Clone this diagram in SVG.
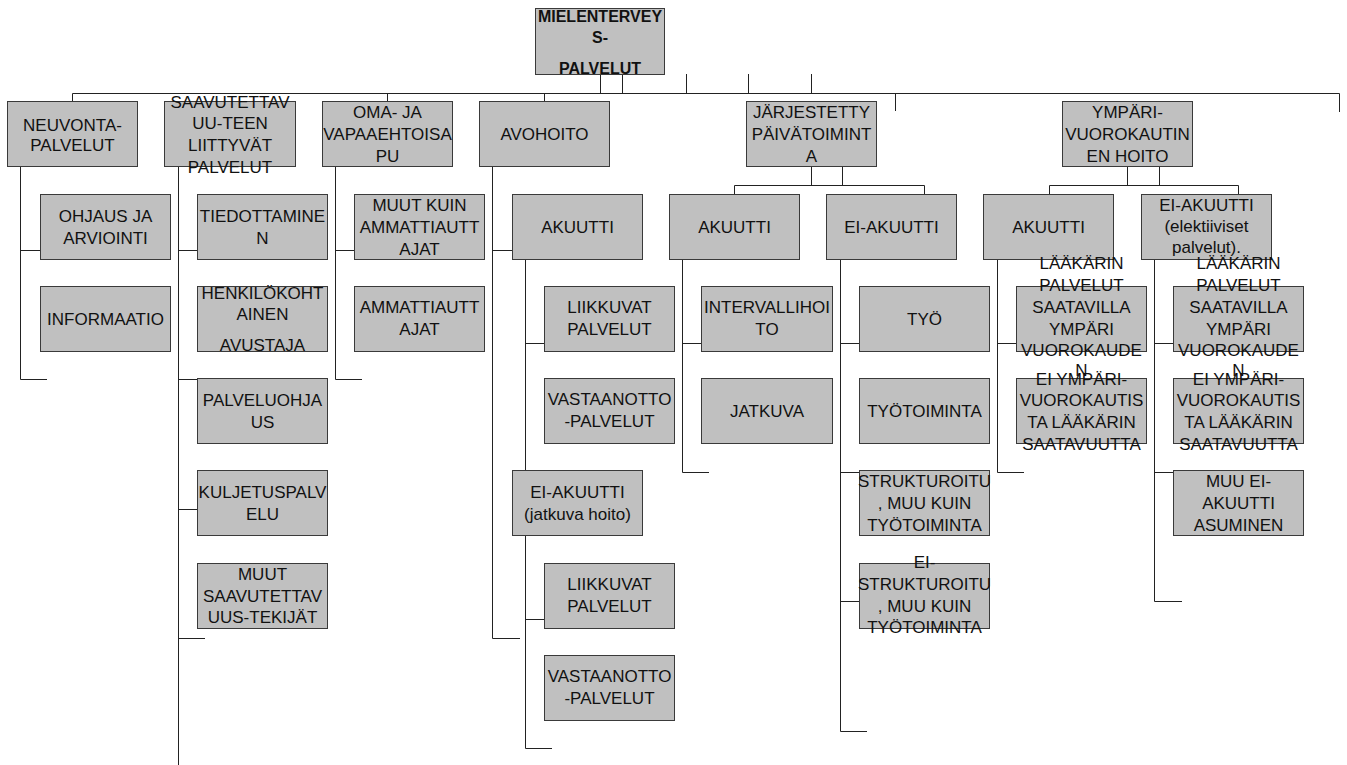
<svg xmlns="http://www.w3.org/2000/svg" width="1347" height="765" viewBox="0 0 1347 765">
<style>
.box{fill:#c0c0c0;stroke:#3a3a3a;stroke-width:1}
.t{font-family:"Liberation Sans",Arial,sans-serif;font-size:17px;text-anchor:middle;fill:#111}
.b{font-family:"Liberation Sans",Arial,sans-serif;font-size:16px;font-weight:bold;text-anchor:middle;fill:#111}
.c{fill:none;stroke:#222;stroke-width:1}
</style>
<rect width="1347" height="765" fill="#fff"/>
<g id="connectors" class="c">
<path d="M600.5 74V93.5M622.5 74V93.5M686.5 74V93.5M748.5 74V93.5M811.5 74V93.5"/>
<path d="M72.5 93.5H1339.5M72.5 93.5V101M387.5 93.5V101M544.5 93.5V101M895.5 93.5V111M1339.5 93.5V112"/>
<path d="M20.5 166V379.5H47M20.5 250.5H40"/>
<path d="M178.5 166V765M178.5 250.5H197M178.5 379.5H197M178.5 509.5H197M178.5 638.5H205"/>
<path d="M335.5 166V379.5H362M335.5 250.5H354"/>
<path d="M492.5 166V638.5H520M492.5 250.5H512M525.5 259V470M525.5 343.5H544M525.5 535V748.5H552M525.5 619.5H544"/>
<path d="M811.5 166V185.5M842.5 166V185.5M734.5 194V185.5H924.5V194M682.5 259V472.5H709M682.5 343.5H701M840.5 259V731.5H867M840.5 343.5H859M840.5 472.5H859M840.5 601.5H859"/>
<path d="M1127.5 166V185.5M1159.5 166V185.5M1049.5 194V185.5H1238.5V194M997.5 259V472.5H1024M997.5 343.5H1016M1154.5 259V601.5H1182M1154.5 343.5H1173M1154.5 472.5H1173"/>
</g>
<g id="n-root"><rect class="box" x="535.5" y="8.5" width="129" height="66"/><text class="b"><tspan x="600" y="22">MIELENTERVEY</tspan><tspan x="600" y="43">S-</tspan><tspan x="600" y="74">PALVELUT</tspan></text></g>
<g id="n-neuvonta"><rect class="box" x="7.5" y="101.5" width="130" height="65"/><text class="t"><tspan x="72.5" y="130.5">NEUVONTA-</tspan><tspan x="72.5" y="151">PALVELUT</tspan></text></g>
<g id="n-saavutettavuus"><rect class="box" x="164.5" y="101.5" width="131" height="65"/><text class="t"><tspan x="230" y="107.5">SAAVUTETTAV</tspan><tspan x="230" y="129.2">UU-TEEN</tspan><tspan x="230" y="150.9">LIITTYVÄT</tspan><tspan x="230" y="172.6">PALVELUT</tspan></text></g>
<g id="n-oma"><rect class="box" x="322.5" y="101.5" width="130" height="65"/><text class="t"><tspan x="387.5" y="118.3">OMA- JA</tspan><tspan x="387.5" y="140">VAPAAEHTOISA</tspan><tspan x="387.5" y="161.7">PU</tspan></text></g>
<g id="n-avohoito"><rect class="box" x="479.5" y="101.5" width="130" height="65"/><text class="t"><tspan x="544.5" y="140">AVOHOITO</tspan></text></g>
<g id="n-paivatoiminta"><rect class="box" x="746.5" y="101.5" width="130" height="65"/><text class="t"><tspan x="811.5" y="118.3">JÄRJESTETTY</tspan><tspan x="811.5" y="140">PÄIVÄTOIMINT</tspan><tspan x="811.5" y="161.7">A</tspan></text></g>
<g id="n-ymparivuorokautinen"><rect class="box" x="1062.5" y="101.5" width="130" height="65"/><text class="t"><tspan x="1127.5" y="118.3">YMPÄRI-</tspan><tspan x="1127.5" y="140">VUOROKAUTIN</tspan><tspan x="1127.5" y="161.7">EN HOITO</tspan></text></g>
<g id="n-ohjaus"><rect class="box" x="40.5" y="194.5" width="130" height="65"/><text class="t"><tspan x="105.5" y="222">OHJAUS JA</tspan><tspan x="105.5" y="243.5">ARVIOINTI</tspan></text></g>
<g id="n-informaatio"><rect class="box" x="40.5" y="286.5" width="130" height="65"/><text class="t"><tspan x="105.5" y="325">INFORMAATIO</tspan></text></g>
<g id="n-tiedottaminen"><rect class="box" x="197.5" y="194.5" width="130" height="65"/><text class="t"><tspan x="262.5" y="222">TIEDOTTAMINE</tspan><tspan x="262.5" y="243.5">N</tspan></text></g>
<g id="n-henkilokohtainen"><rect class="box" x="197.5" y="286.5" width="130" height="65"/><text class="t"><tspan x="262.5" y="298.5">HENKILÖKOHT</tspan><tspan x="262.5" y="319.5">AINEN</tspan><tspan x="262.5" y="351">AVUSTAJA</tspan></text></g>
<g id="n-palveluohjaus"><rect class="box" x="197.5" y="378.5" width="130" height="65"/><text class="t"><tspan x="262.5" y="406">PALVELUOHJA</tspan><tspan x="262.5" y="427.5">US</tspan></text></g>
<g id="n-kuljetuspalvelu"><rect class="box" x="197.5" y="470.5" width="130" height="65"/><text class="t"><tspan x="262.5" y="498">KULJETUSPALV</tspan><tspan x="262.5" y="519.5">ELU</tspan></text></g>
<g id="n-muut-saavutettavuus"><rect class="box" x="197.5" y="563.5" width="130" height="65"/><text class="t"><tspan x="262.5" y="580">MUUT</tspan><tspan x="262.5" y="601.7">SAAVUTETTAV</tspan><tspan x="262.5" y="623.4">UUS-TEKIJÄT</tspan></text></g>
<g id="n-muut-kuin-ammatti"><rect class="box" x="354.5" y="194.5" width="130" height="65"/><text class="t"><tspan x="419.5" y="211.3">MUUT KUIN</tspan><tspan x="419.5" y="233">AMMATTIAUTT</tspan><tspan x="419.5" y="254.7">AJAT</tspan></text></g>
<g id="n-ammatti"><rect class="box" x="354.5" y="286.5" width="130" height="65"/><text class="t"><tspan x="419.5" y="313">AMMATTIAUTT</tspan><tspan x="419.5" y="335">AJAT</tspan></text></g>
<g id="n-avo-akuutti"><rect class="box" x="512.5" y="194.5" width="130" height="65"/><text class="t"><tspan x="577.5" y="233">AKUUTTI</tspan></text></g>
<g id="n-avo-akuutti-liikkuvat"><rect class="box" x="544.5" y="286.5" width="130" height="65"/><text class="t"><tspan x="609.5" y="313">LIIKKUVAT</tspan><tspan x="609.5" y="335">PALVELUT</tspan></text></g>
<g id="n-avo-akuutti-vastaanotto"><rect class="box" x="544.5" y="378.5" width="130" height="65"/><text class="t"><tspan x="609.5" y="405">VASTAANOTTO</tspan><tspan x="609.5" y="427">-PALVELUT</tspan></text></g>
<g id="n-avo-eiakuutti"><rect class="box" x="512.5" y="470.5" width="130" height="65"/><text class="t"><tspan x="577.5" y="498">EI-AKUUTTI</tspan><tspan x="577.5" y="519.5">(jatkuva hoito)</tspan></text></g>
<g id="n-avo-eiakuutti-liikkuvat"><rect class="box" x="544.5" y="563.5" width="130" height="65"/><text class="t"><tspan x="609.5" y="590">LIIKKUVAT</tspan><tspan x="609.5" y="612">PALVELUT</tspan></text></g>
<g id="n-avo-eiakuutti-vastaanotto"><rect class="box" x="544.5" y="655.5" width="130" height="65"/><text class="t"><tspan x="609.5" y="682">VASTAANOTTO</tspan><tspan x="609.5" y="704">-PALVELUT</tspan></text></g>
<g id="n-pt-akuutti"><rect class="box" x="669.5" y="194.5" width="130" height="65"/><text class="t"><tspan x="734.5" y="233">AKUUTTI</tspan></text></g>
<g id="n-intervallihoito"><rect class="box" x="701.5" y="286.5" width="131" height="65"/><text class="t"><tspan x="767" y="313">INTERVALLIHOI</tspan><tspan x="767" y="335">TO</tspan></text></g>
<g id="n-jatkuva"><rect class="box" x="701.5" y="378.5" width="131" height="65"/><text class="t"><tspan x="767" y="417">JATKUVA</tspan></text></g>
<g id="n-pt-eiakuutti"><rect class="box" x="826.5" y="194.5" width="130" height="65"/><text class="t"><tspan x="891.5" y="233">EI-AKUUTTI</tspan></text></g>
<g id="n-tyo"><rect class="box" x="859.5" y="286.5" width="130" height="65"/><text class="t"><tspan x="924.5" y="325">TYÖ</tspan></text></g>
<g id="n-tyotoiminta"><rect class="box" x="859.5" y="378.5" width="130" height="65"/><text class="t"><tspan x="924.5" y="417">TYÖTOIMINTA</tspan></text></g>
<g id="n-strukturoitu"><rect class="box" x="859.5" y="470.5" width="130" height="65"/><text class="t"><tspan x="924.5" y="487.3">STRUKTUROITU</tspan><tspan x="924.5" y="509">, MUU KUIN</tspan><tspan x="924.5" y="530.7">TYÖTOIMINTA</tspan></text></g>
<g id="n-ei-strukturoitu"><rect class="box" x="859.5" y="563.5" width="130" height="65"/><text class="t"><tspan x="924.5" y="568">EI-</tspan><tspan x="924.5" y="590">STRUKTUROITU</tspan><tspan x="924.5" y="611.7">, MUU KUIN</tspan><tspan x="924.5" y="633">TYÖTOIMINTA</tspan></text></g>
<g id="n-yv-akuutti"><rect class="box" x="983.5" y="194.5" width="130" height="65"/><text class="t"><tspan x="1048.5" y="233">AKUUTTI</tspan></text></g>
<g id="n-yv-akuutti-laakari"><rect class="box" x="1016.5" y="286.5" width="130" height="65"/><text class="t"><tspan x="1081.5" y="269">LÄÄKÄRIN</tspan><tspan x="1081.5" y="290.5">PALVELUT</tspan><tspan x="1081.5" y="312.5">SAATAVILLA</tspan><tspan x="1081.5" y="334.5">YMPÄRI</tspan><tspan x="1081.5" y="356">VUOROKAUDE</tspan><tspan x="1081.5" y="376">N</tspan></text></g>
<g id="n-yv-akuutti-ei-ympari"><rect class="box" x="1016.5" y="378.5" width="130" height="65"/><text class="t"><tspan x="1081.5" y="385">EI YMPÄRI-</tspan><tspan x="1081.5" y="406.3">VUOROKAUTIS</tspan><tspan x="1081.5" y="428">TA LÄÄKÄRIN</tspan><tspan x="1081.5" y="449.5">SAATAVUUTTA</tspan></text></g>
<g id="n-yv-eiakuutti"><rect class="box" x="1141.5" y="194.5" width="130" height="65"/><text class="t"><tspan x="1206.5" y="210.5">EI-AKUUTTI</tspan><tspan x="1206.5" y="231.5">(elektiiviset</tspan><tspan x="1206.5" y="252.5">palvelut).</tspan></text></g>
<g id="n-yv-eiakuutti-laakari"><rect class="box" x="1173.5" y="286.5" width="130" height="65"/><text class="t"><tspan x="1238.5" y="269">LÄÄKÄRIN</tspan><tspan x="1238.5" y="290.5">PALVELUT</tspan><tspan x="1238.5" y="312.5">SAATAVILLA</tspan><tspan x="1238.5" y="334.5">YMPÄRI</tspan><tspan x="1238.5" y="356">VUOROKAUDE</tspan><tspan x="1238.5" y="376">N</tspan></text></g>
<g id="n-yv-eiakuutti-ei-ympari"><rect class="box" x="1173.5" y="378.5" width="130" height="65"/><text class="t"><tspan x="1238.5" y="385">EI YMPÄRI-</tspan><tspan x="1238.5" y="406.3">VUOROKAUTIS</tspan><tspan x="1238.5" y="428">TA LÄÄKÄRIN</tspan><tspan x="1238.5" y="449.5">SAATAVUUTTA</tspan></text></g>
<g id="n-muu-ei-akuutti-asuminen"><rect class="box" x="1173.5" y="470.5" width="130" height="65"/><text class="t"><tspan x="1238.5" y="487.3">MUU EI-</tspan><tspan x="1238.5" y="509">AKUUTTI</tspan><tspan x="1238.5" y="530.7">ASUMINEN</tspan></text></g>
</svg>
